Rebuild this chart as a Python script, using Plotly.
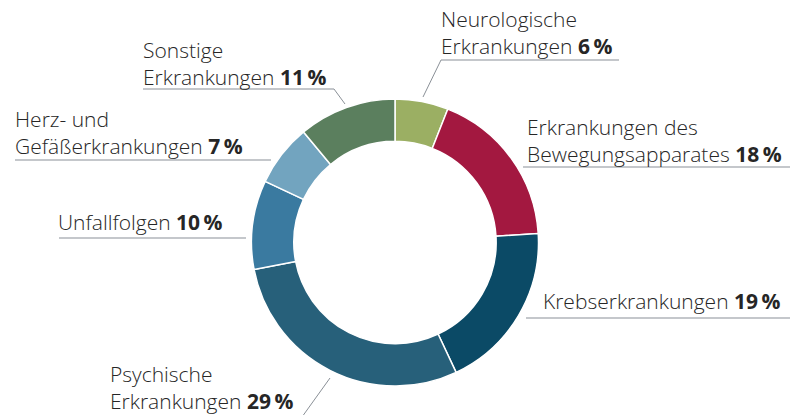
import plotly.graph_objects as go

W, H = 798, 415
OFF = 8  # page body margin offset

labels = ["Neurologische Erkrankungen", "Erkrankungen des Bewegungsapparates",
          "Krebserkrankungen", "Psychische Erkrankungen", "Unfallfolgen",
          "Herz- und Gefäßerkrankungen", "Sonstige Erkrankungen"]
values = [6, 18, 19, 29, 10, 7, 11]
colors = ["#9BAF63", "#A31840", "#0B4A66", "#27607A", "#3A7AA0", "#72A4BF", "#5B7F5E"]
label_lines = [["Neurologische", "Erkrankungen"],
               ["Erkrankungen des", "Bewegungsapparates"],
               ["Krebserkrankungen"],
               ["Psychische", "Erkrankungen"],
               ["Unfallfolgen"],
               ["Herz- und", "Gefäßerkrankungen"],
               ["Sonstige", "Erkrankungen"]]

# layout: label text left x, vertical centre of label block, underline (x0,x1,y), leader (pixels)
label_pos = [
    dict(tx=440, ty=33, ul=(441, 619, 60), lead=((441, 60), (423, 97))),
    dict(tx=526, ty=140, ul=(523, 795, 167), lead=None),
    dict(tx=542, ty=301, ul=(526, 792, 318), lead=None),
    dict(tx=109, ty=387, ul=None, lead=((330, 378), (302, 417))),
    dict(tx=57, ty=222, ul=(59, 246, 238), lead=None),
    dict(tx=14, ty=133, ul=(15, 271, 160), lead=None),
    dict(tx=142, ty=63.5, ul=(143, 334, 89), lead=((334, 89), (345, 104))),
]

cx, cy, R = 395, 242.5, 143.5

def px(x):
    return (x - OFF) / W

def py(y):
    return 1 - (y - OFF) / H

fig = go.Figure(go.Pie(
    labels=labels, values=values, sort=False, direction="clockwise", rotation=0,
    hole=0.705, textinfo="none", hoverinfo="label+percent",
    marker=dict(colors=colors, line=dict(color="white", width=1.5)),
    domain=dict(x=[px(cx - R), px(cx + R)], y=[py(cy + R), py(cy - R)]),
    showlegend=False,
))

LINE = "#8A9097"
FONT = dict(family="'Open Sans', sans-serif", size=21, color="#262626", weight=300)

shapes = []
annotations = []
for lines, v, p in zip(label_lines, values, label_pos):
    txt = "<br>".join(lines[:-1] + [lines[-1] + " <b>" + str(v) + "\u2009%</b>"])
    annotations.append(dict(
        x=px(p["tx"]), y=py(p["ty"]), xref="paper", yref="paper",
        xanchor="left", yanchor="middle", align="left", text=txt,
        showarrow=False, borderpad=0, font=FONT))
    if p["ul"]:
        x0, x1, y = p["ul"]
        shapes.append(dict(type="line", xref="paper", yref="paper",
                           x0=px(x0), x1=px(x1), y0=py(y), y1=py(y),
                           line=dict(color=LINE, width=1.2)))
    if p["lead"]:
        (a, b), (c, d) = p["lead"]
        shapes.append(dict(type="line", xref="paper", yref="paper",
                           x0=px(a), y0=py(b), x1=px(c), y1=py(d),
                           line=dict(color=LINE, width=1)))

fig.update_layout(
    width=W, height=H, margin=dict(l=0, r=0, t=0, b=0),
    paper_bgcolor="white", plot_bgcolor="white",
    shapes=shapes, annotations=annotations,
)

fig.write_html("out.html")
